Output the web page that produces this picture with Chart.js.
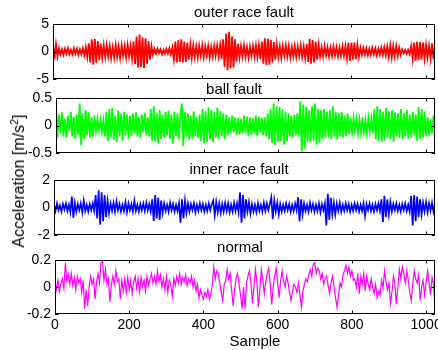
<!DOCTYPE html>
<html><head><meta charset="utf-8">
<script src="https://cdn.jsdelivr.net/npm/chart.js@4.4.1/dist/chart.umd.min.js"></script>
<style>
html,body{margin:0;padding:0;background:#fff;}
body{width:438px;height:350px;overflow:hidden;position:relative;}
canvas{position:absolute;left:0;}
.lab{position:absolute;font-family:"Liberation Sans",Arial,sans-serif;color:#000;white-space:nowrap;}
#ylab{left:19px;top:181px;transform:translate(-50%,-50%) rotate(-90deg);font-size:16px;line-height:16px;}
#ylab sup{font-size:11px;line-height:0;vertical-align:6px;}
#xlab{left:255px;top:341px;transform:translate(-50%,-50%);font-size:15px;line-height:18px;}
</style></head><body>
<canvas id="c0"></canvas><canvas id="c1"></canvas><canvas id="c2"></canvas><canvas id="c3"></canvas>
<div id="ylab" class="lab">Acceleration [m/s<sup>2</sup>]</div>
<div id="xlab" class="lab">Sample</div>
<script>
// ---- data (one value every 4 samples) ----
const STEP = 4;
const X_MAX = 1024;
const xTicks = [0, 200, 400, 600, 800, 1000];
const titles = ['outer race fault', 'ball fault', 'inner race fault', 'normal'];
const yTicksOuter = [-5, 0, 5];
const yTicksBall = [-0.5, 0, 0.5];
const yTicksInner = [-2, 0, 2];
const yTicksNormal = [-0.2, 0, 0.2];

const outerRace = [1.5,-1.4,1.3,-0.9,
0.6,-0.5,0.4,-0.6,0.5,-0.4,0.6,-0.5,0.3,-0.5,0.6,-0.4,0.5,-0.6,0.4,-0.5,0.6,-0.7,0.8,-1.0,
1.5,-2.0,2.2,-2.4,2.3,-2.1,1.9,-1.6,1.4,-1.2,
1.1,-1.0,1.2,-0.9,1.0,-1.2,0.8,-1.1,1.2,-1.0,0.9,-1.2,1.1,-0.8,1.0,-1.1,1.2,-0.9,1.0,-1.3,
1.8,-2.3,2.7,-2.9,3.1,-2.8,2.6,-3.0,2.4,-2.2,1.9,-1.5,1.0,
-0.6,0.5,-0.4,0.5,-0.3,0.4,-0.5,0.3,-0.4,0.5,-0.4,0.6,-0.5,0.7,
-1.4,1.8,-2.0,2.1,-1.9,2.2,-2.0,1.8,-1.9,1.6,-1.5,1.3,-1.2,1.1,
-1.0,0.9,-1.1,1.0,-0.8,1.1,-1.0,0.9,-0.7,1.0,-1.1,0.8,-0.9,1.0,-0.8,1.1,-0.9,1.2,-1.4,
2.2,-2.8,3.2,-3.4,3.6,-3.1,2.7,-2.9,2.2,-1.8,1.4,
-1.1,1.0,-0.9,1.1,-1.0,0.8,-1.1,0.9,-0.8,1.0,-0.9,1.1,-1.0,1.2,-1.4,
1.8,-2.2,2.4,-2.5,2.3,-2.4,2.1,-2.0,1.7,-1.5,1.3,
-1.0,0.9,-1.1,1.0,-0.8,1.1,-0.9,1.0,-1.1,0.8,-0.9,1.0,-1.0,0.9,-0.8,1.1,-1.0,0.9,-1.2,1.4,
-1.9,2.3,-2.2,2.1,-2.0,1.8,-1.5,1.2,
-0.9,0.8,-0.9,1.0,-0.7,0.8,-0.9,0.7,-0.8,0.9,-0.7,0.8,-0.9,0.7,-0.8,0.9,-0.8,1.0,
-1.3,1.6,-1.7,1.6,-1.5,1.6,-1.4,1.2,-1.0,
0.7,-0.6,0.7,-0.5,0.6,-0.7,0.5,-0.6,0.7,-0.5,0.6,-0.7,0.5,-0.6,0.7,-0.6,0.8,-0.7,0.9,
-1.0,1.1,-1.1,1.0,-0.9,1.0,-0.8,0.7,-0.6,
0.4,-0.3,0.3,-0.4,0.3,-0.5,
1.0,-1.3,1.6,-1.7,1.8,-1.6,1.7,-1.5,1.6,-1.3,1.2,-1.1,1.0,
-1.3,1.5,-1.4,1.2];

const ballFault = [0.38,-0.22,
0.2,-0.15,0.24,-0.2,0.12,-0.22,0.18,-0.1,0.25,-0.2,0.16,-0.24,0.2,-0.18,
0.4,-0.36,
0.22,-0.25,0.28,-0.18,0.25,-0.22,0.15,-0.2,0.18,
-0.1,0.12,-0.08,0.1,-0.12,0.09,
-0.2,0.24,-0.28,0.3,-0.22,0.32,-0.26,0.18,-0.3,0.27,-0.2,0.22,-0.28,0.25,-0.18,0.2,-0.24,
0.18,-0.2,0.22,-0.15,0.24,-0.2,0.16,-0.22,0.2,-0.12,0.23,-0.18,0.15,-0.2,
0.3,-0.28,0.35,-0.3,0.22,-0.32,0.28,-0.25,0.2,
-0.22,0.25,-0.18,0.27,-0.24,0.2,-0.33,0.25,-0.2,0.22,-0.25,0.2,
0.4,-0.37,
0.25,-0.2,0.22,-0.26,0.18,-0.24,0.26,-0.2,0.15,-0.22,0.2,
-0.28,0.3,-0.32,0.26,-0.3,0.33,-0.25,0.28,-0.3,0.24,-0.22,
0.32,-0.24,0.26,-0.2,0.22,-0.25,0.2,-0.18,0.15,
-0.15,0.18,-0.12,0.15,-0.18,0.14,-0.16,0.12,-0.14,0.18,-0.13,0.16,-0.2,0.15,-0.17,0.13,-0.15,0.18,-0.2,0.16,-0.12,0.14,-0.18,0.15,-0.2,0.22,-0.25,
0.3,-0.32,0.4,-0.36,0.35,-0.3,0.33,-0.28,0.3,-0.35,0.25,-0.28,0.22,-0.2,
0.18,-0.22,0.2,-0.18,0.22,-0.2,
0.44,-0.47,0.38,-0.42,0.34,-0.3,
0.28,-0.3,0.35,-0.28,0.4,-0.35,0.3,-0.32,0.28,-0.25,0.3,-0.22,
0.25,-0.22,0.28,-0.25,0.35,-0.2,0.24,-0.26,0.22,-0.2,0.25,-0.22,0.18,-0.2,0.22,-0.16,0.14,
-0.12,0.14,-0.1,0.12,-0.14,0.1,-0.13,0.15,-0.12,0.1,-0.14,0.13,-0.11,0.12,-0.15,
0.3,-0.25,0.35,-0.28,0.3,-0.3,0.25,-0.27,0.32,-0.22,0.26,-0.25,0.28,-0.3,0.24,-0.2,0.22,
-0.22,0.3,-0.25,0.22,-0.2,0.28,-0.24,0.2,-0.22,0.25,-0.18,0.2,
-0.28,0.34,-0.25,0.3,-0.22,0.26,-0.2,
0.15,-0.18,0.12,-0.15,0.18,-0.2];

const innerRace = [0.2,-0.25,0.3,-0.2,0.15,-0.3,0.25,-0.15,0.3,-0.25,0.2,-0.35,
0.8,-0.75,
0.35,-0.3,0.25,-0.2,0.3,-0.35,0.5,-0.25,0.2,-0.3,0.25,-0.2,0.3,-0.25,
0.9,-0.8,1.25,-1.25,1.1,-1.0,0.9,-0.7,0.5,-0.4,
0.3,-0.25,0.35,-0.3,0.45,-0.2,0.25,-0.3,0.2,-0.25,0.4,-0.35,0.3,-0.2,0.25,-0.3,0.5,-0.25,0.2,-0.3,0.25,-0.2,0.3,-0.25,0.35,-0.2,0.25,-0.3,
0.6,-1.0,0.9,-0.8,0.7,-0.9,0.5,-0.4,
0.3,-0.25,0.2,-0.3,0.35,-0.2,0.25,-0.3,0.2,-0.25,0.3,
-1.1,0.6,-0.8,0.5,-0.4,0.3,
-0.3,0.25,-0.2,0.3,-0.35,0.2,-0.25,0.3,-0.2,0.25,-0.3,0.2,-0.25,0.3,-0.2,0.25,
0.5,-0.55,0.4,
-0.35,0.3,-0.4,0.25,-0.3,0.35,-0.25,0.3,-0.35,0.2,-0.3,0.35,-0.25,0.3,-0.35,
1.1,-1.1,0.9,-0.8,0.6,
-0.3,0.4,-0.45,0.25,-0.3,0.2,-0.35,0.3,-0.25,0.2,-0.3,0.35,-0.25,0.3,-0.2,0.25,
0.75,-0.85,0.5,
-0.3,0.35,-0.5,0.25,-0.3,0.2,-0.25,0.3,-0.2,0.25,-0.3,0.2,-0.25,0.3,-0.2,
0.75,-1.0,0.6,-0.5,
0.3,-0.25,0.2,-0.3,0.35,-0.2,0.25,-0.3,0.2,-0.25,0.3,-0.35,0.25,-0.2,0.3,
-1.3,1.0,-0.9,0.7,-0.5,
0.35,-0.5,0.3,-0.25,0.35,-0.3,0.2,-0.25,0.3,-0.2,0.25,-0.3,0.2,-0.25,0.3,-0.2,0.25,-0.3,0.2,-0.25,0.3,-0.6,0.25,-0.2,0.3,-0.25,0.2,-0.3,0.25,-0.2,0.3,-0.25,
0.6,-1.05,0.85,-0.7,0.6,-0.5,0.4,
-0.3,0.25,-0.2,0.3,-0.25,0.2,-0.3,0.25,-0.2,0.3,-0.25,0.2,-0.3,
0.85,-1.3,0.9,-1.0,0.8,-0.7,0.6,-0.5,
0.35,-0.3,0.4,-0.35,0.3,-0.25,0.35,-0.3,0.3];

const normal = [0.04,-0.02,0.05,-0.03,0.03,0.06,-0.01,0.18,0.04,0.09,
0.02,0.1,0.01,0.07,-0.02,0.08,0.03,0.06,-0.04,0.05,
-0.16,-0.02,-0.14,0.0,0.08,0.02,0.06,-0.09,0.04,0.1,
0.03,0.18,0.19,0.05,0.13,0.02,0.06,-0.11,0.02,0.08,
0.02,0.12,0.04,0.06,-0.09,0.05,-0.03,0.06,-0.04,0.07,
-0.02,0.05,-0.05,0.04,0.08,-0.01,0.06,-0.04,0.07,0.0,
0.05,-0.03,0.08,0.01,0.06,0.1,0.03,0.08,0.02,0.12,
0.04,0.09,0.0,0.06,-0.02,0.08,-0.04,0.05,0.02,-0.07,
0.06,0.01,0.08,0.03,0.1,0.02,0.07,0.04,0.09,0.01,
0.06,0.03,0.08,0.0,0.05,-0.03,0.02,-0.08,-0.02,-0.06,
-0.09,-0.04,-0.07,-0.02,-0.09,-0.05,0.02,0.15,0.06,0.12,
0.1,0.03,-0.04,-0.1,0.02,0.05,0.13,0.06,0.1,-0.02,
-0.14,-0.02,0.06,0.1,0.02,-0.06,-0.16,0.0,-0.16,0.03,
0.08,0.12,0.03,-0.12,0.0,0.13,0.04,-0.15,-0.02,0.13,
0.05,-0.05,0.04,0.1,0.14,0.02,-0.13,0.0,0.08,0.14,
0.03,-0.08,0.05,0.12,0.04,0.0,0.08,0.03,-0.04,-0.1,
-0.03,0.02,0.0,-0.04,0.03,-0.06,-0.15,-0.03,0.02,0.06,
0.04,0.09,0.13,0.08,0.17,0.18,0.1,0.14,0.12,0.06,
0.1,0.02,0.06,0.08,0.01,-0.05,0.03,0.08,0.0,-0.08,
-0.15,-0.06,0.03,0.0,0.09,0.12,0.16,0.1,0.15,0.08,
0.12,0.05,0.06,0.0,0.1,-0.05,0.08,0.02,0.1,-0.03,
0.08,0.02,-0.02,0.06,0.0,-0.05,0.02,-0.08,-0.03,-0.06,
0.05,-0.01,0.12,0.04,-0.02,0.03,-0.12,-0.04,0.08,0.02,
-0.13,0.0,0.13,0.06,0.15,0.1,0.03,0.12,0.05,-0.04,
-0.1,0.02,0.12,0.06,0.03,0.09,-0.1,0.0,0.05,-0.06,
0.03,0.12,0.04,-0.06,0.07,0.02,-0.15];

const seriesList = [outerRace, ballFault, innerRace, normal];
const tickList = [yTicksOuter, yTicksBall, yTicksInner, yTicksNormal];
const colors = ['#ff0000', '#00ff00', '#0000ff', '#ff00ff'];

// ---- layout (pixels, page coordinates) ----
const panels = [
  {top: 2,   height: 87,  left: 53, right: 3, padTop: 22, padBottom: 10, xAxis: false, lw: 1.8, titleX: 244, titleY: 13.3},
  {top: 76,  height: 87,  left: 56, right: 3, padTop: 22, padBottom: 10, xAxis: false, lw: 1.8, titleX: 234, titleY: 89.5},
  {top: 158, height: 87,  left: 54, right: 3, padTop: 22, padBottom: 10, xAxis: false, lw: 1.7, titleX: 239, titleY: 170},
  {top: 238, height: 112, left: 55, right: 3, padTop: 22, padBottom: 0,  xAxis: true, xHeight: 36, lw: 1.2, titleX: 240, titleY: 248}
];
const FONT = 'Liberation Sans, Arial, sans-serif';
Chart.defaults.font.family = FONT;
Chart.defaults.color = '#000';

const titlePlugin = {
  id: 'panelTitle',
  afterDraw(chart, args, o) {
    const ctx = chart.ctx;
    ctx.save();
    ctx.font = '15px "Liberation Sans", Arial, sans-serif';
    ctx.fillStyle = '#000';
    ctx.textAlign = 'center';
    ctx.textBaseline = 'middle';
    ctx.fillText(o.text, o.x, o.y);
    ctx.restore();
  }
};

const boxPlugin = {
  id: 'matlabBox',
  afterDatasetsDraw(chart, args, o) {
    const {ctx, chartArea: a, scales: {x, y}} = chart;
    const TL = 3.5;
    ctx.save();
    ctx.strokeStyle = '#000';
    ctx.lineWidth = 1;
    ctx.strokeRect(a.left + 0.5, a.top + 0.5, a.right - a.left - 1, a.bottom - a.top - 1);
    ctx.beginPath();
    xTicks.forEach(v => {
      const px = Math.round(x.getPixelForValue(v)) + 0.5;
      ctx.moveTo(px, a.bottom); ctx.lineTo(px, a.bottom - TL);
      ctx.moveTo(px, a.top); ctx.lineTo(px, a.top + TL);
    });
    o.yTicks.forEach(v => {
      const py = Math.round(y.getPixelForValue(v)) + 0.5;
      ctx.moveTo(a.left, py); ctx.lineTo(a.left + TL, py);
      ctx.moveTo(a.right, py); ctx.lineTo(a.right - TL, py);
    });
    ctx.stroke();
    ctx.restore();
  }
};

panels.forEach((p, k) => {
  const cv = document.getElementById('c' + k);
  cv.width = 438; cv.height = p.height;
  cv.style.top = p.top + 'px';
  cv.style.width = '438px'; cv.style.height = p.height + 'px';
  const yt = tickList[k];
  const pts = seriesList[k].map((v, i) => ({x: i * STEP, y: v}));
  new Chart(cv, {
    type: 'line',
    data: {datasets: [{label: titles[k], data: pts, borderColor: colors[k], borderWidth: p.lw, pointRadius: 0, tension: 0, fill: false}]},
    plugins: [boxPlugin, titlePlugin],
    options: {
      responsive: false, animation: false, events: [],
      layout: {padding: {top: p.padTop, bottom: p.padBottom, left: 0, right: p.right}},
      plugins: {
        legend: {display: false}, tooltip: {enabled: false}, title: {display: false},
        panelTitle: {text: titles[k], x: p.titleX, y: p.titleY - p.top},
        matlabBox: {yTicks: yt}
      },
      scales: {
        x: {
          type: 'linear', min: 0, max: X_MAX, display: p.xAxis,
          grid: {display: false, drawTicks: false}, border: {display: false},
          ticks: {color: '#000', font: {family: FONT, size: 14}, padding: 3, maxRotation: 0, autoSkip: false, callback: v => String(v)},
          afterBuildTicks: s => { s.ticks = xTicks.map(v => ({value: v})); },
          afterFit: s => { s.height = p.xAxis ? p.xHeight : 0; s.paddingLeft = 0; s.paddingRight = 0; }
        },
        y: {
          type: 'linear', min: yt[0], max: yt[yt.length - 1],
          grid: {display: false, drawTicks: false}, border: {display: false},
          ticks: {color: '#000', font: {family: FONT, size: 14}, padding: 4, callback: v => String(v)},
          afterBuildTicks: s => { s.ticks = yt.map(v => ({value: v})); },
          afterFit: s => { s.width = p.left; s.paddingTop = 0; s.paddingBottom = 0; }
        }
      }
    }
  });
});
</script>
</body></html>
